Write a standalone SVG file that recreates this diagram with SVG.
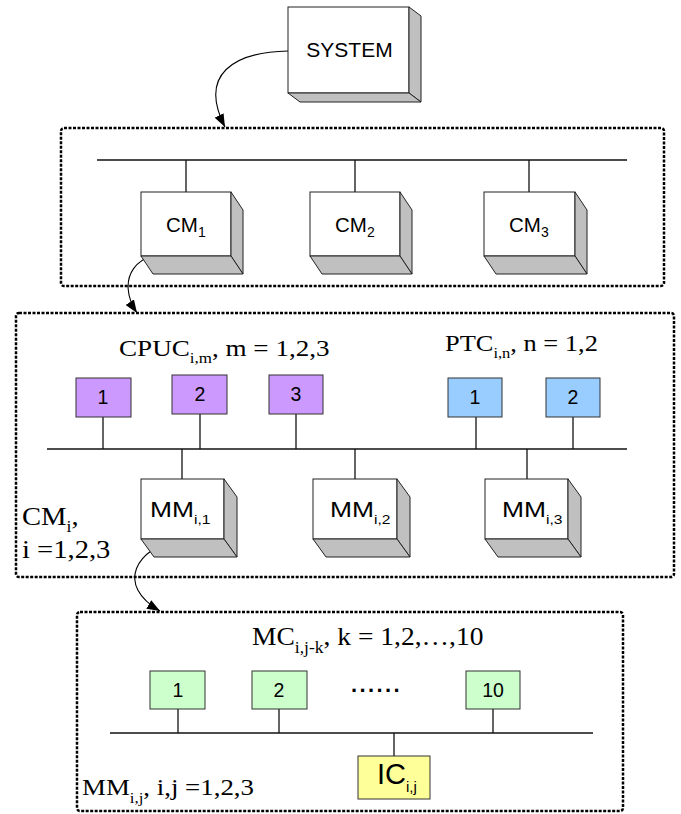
<svg xmlns="http://www.w3.org/2000/svg" width="681" height="814" viewBox="0 0 681 814">
<defs>
<style>
.frame{fill:none;stroke:#000;stroke-width:2.5;stroke-dasharray:3 1.5}
.front{fill:#fff;stroke:#222;stroke-width:1}
.face{fill:#c0c0c0;stroke:#222;stroke-width:1}
.bus{stroke:#111;stroke-width:1.3;fill:none}
.curve{stroke:#000;stroke-width:1.1;fill:none;marker-end:url(#arr)}
.cpu{fill:#cc99ff;stroke:#333;stroke-width:1}
.ptc{fill:#99ccff;stroke:#333;stroke-width:1}
.mc{fill:#ccffcc;stroke:#333;stroke-width:1}
.ic{fill:#ffff99;stroke:#333;stroke-width:1}
.hv{font-family:"Liberation Sans",Arial,sans-serif;fill:#000}
.tm{font-family:"Liberation Serif","Times New Roman",serif;fill:#000}
.num{font-family:"Liberation Sans",Arial,sans-serif;font-size:19.5px;text-anchor:middle;fill:#000}
</style>
<marker id="arr" viewBox="0 0 13 10" markerWidth="13" markerHeight="10" refX="13" refY="5" orient="auto" markerUnits="userSpaceOnUse">
<path d="M0,0 L13,5 L0,10 z" fill="#000"/>
</marker>
</defs>

<!-- frames -->
<rect id="frame-system" class="frame" x="61" y="128" width="603" height="158" rx="3"/>
<rect id="frame-cm" class="frame" x="16" y="313" width="658" height="264" rx="3"/>
<rect id="frame-mm" class="frame" x="77" y="612" width="546" height="199" rx="3"/>

<g id="connectors">
<line class="bus" x1="97" y1="160" x2="627" y2="160"/>
<line class="bus" x1="186" y1="160" x2="186" y2="192"/>
<line class="bus" x1="355" y1="160" x2="355" y2="192"/>
<line class="bus" x1="529" y1="160" x2="529" y2="192"/>

<line class="bus" x1="47" y1="449" x2="627" y2="449"/>
<line class="bus" x1="103" y1="417" x2="103" y2="449"/>
<line class="bus" x1="200" y1="414" x2="200" y2="449"/>
<line class="bus" x1="296" y1="414" x2="296" y2="449"/>
<line class="bus" x1="476" y1="417" x2="476" y2="449"/>
<line class="bus" x1="573" y1="417" x2="573" y2="449"/>
<line class="bus" x1="182" y1="449" x2="182" y2="479"/>
<line class="bus" x1="355" y1="449" x2="355" y2="479"/>
<line class="bus" x1="527" y1="449" x2="527" y2="479"/>

<line class="bus" x1="110" y1="733" x2="593" y2="733"/>
<line class="bus" x1="178" y1="709" x2="178" y2="733"/>
<line class="bus" x1="279" y1="709" x2="279" y2="733"/>
<line class="bus" x1="493" y1="709" x2="493" y2="733"/>
<line class="bus" x1="394" y1="733" x2="394" y2="756"/>

<path class="curve" d="M288,51 C234,52 198,74 225,127"/>
<path class="curve" d="M183,256 C135,246 115,280 137,313"/>
<path class="curve" d="M182,538 C135,548 115,585 160,611"/>
</g>

<g id="system">
<rect class="front" x="288" y="7" width="121" height="86"/>
<polygon class="face" points="409,7 421,16 421,102 409,93"/>
<polygon class="face" points="288,93 409,93 421,102 300,102"/>
<text class="hv" x="349.5" y="57" font-size="21" text-anchor="middle">SYSTEM</text>
</g>

<g id="cm1">
<rect class="front" x="141" y="192" width="90" height="64"/>
<polygon class="face" points="231,192 243,210 243,274 231,256"/>
<polygon class="face" points="141,256 231,256 243,274 153,274"/>
<text class="hv" x="166" y="232" font-size="20.5">CM<tspan font-size="14" dy="5">1</tspan></text>
</g>
<g id="cm2">
<rect class="front" x="310" y="192" width="90" height="64"/>
<polygon class="face" points="400,192 412,210 412,274 400,256"/>
<polygon class="face" points="310,256 400,256 412,274 322,274"/>
<text class="hv" x="335" y="232" font-size="20.5">CM<tspan font-size="14" dy="5">2</tspan></text>
</g>
<g id="cm3">
<rect class="front" x="484" y="192" width="91" height="64"/>
<polygon class="face" points="575,192 587,210 587,274 575,256"/>
<polygon class="face" points="484,256 575,256 587,274 496,274"/>
<text class="hv" x="509" y="232" font-size="20.5">CM<tspan font-size="14" dy="5">3</tspan></text>
</g>

<g id="label-cpuc">
<text class="tm" font-size="24" transform="translate(119,356) scale(1.13,1)">CPUC<tspan font-size="15" dy="7">i,m</tspan><tspan dy="-7">, m = 1,2,3</tspan></text>
</g>
<g id="label-ptc">
<text class="tm" font-size="24" transform="translate(445,351) scale(1.1,1)">PTC<tspan font-size="15" dy="7">i,n</tspan><tspan dy="-7">, n = 1,2</tspan></text>
</g>

<g id="cpuc1"><rect class="cpu" x="76" y="378" width="55" height="39"/><text class="num" x="103" y="404">1</text></g>
<g id="cpuc2"><rect class="cpu" x="172" y="375" width="55" height="39"/><text class="num" x="200" y="401">2</text></g>
<g id="cpuc3"><rect class="cpu" x="269" y="375" width="54" height="39"/><text class="num" x="296" y="401">3</text></g>
<g id="ptc1"><rect class="ptc" x="448" y="378" width="54" height="39"/><text class="num" x="475" y="404">1</text></g>
<g id="ptc2"><rect class="ptc" x="546" y="378" width="54" height="39"/><text class="num" x="573" y="404">2</text></g>

<g id="mm1">
<rect class="front" x="141" y="479" width="83" height="60"/>
<polygon class="face" points="224,479 237,497 237,557 224,539"/>
<polygon class="face" points="141,539 224,539 237,557 154,557"/>
<text class="hv" font-size="22" transform="translate(150,517) scale(1.2,1)">MM<tspan font-size="13" dy="7">i,1</tspan></text>
</g>
<g id="mm2">
<rect class="front" x="313" y="479" width="84" height="60"/>
<polygon class="face" points="397,479 410,497 410,557 397,539"/>
<polygon class="face" points="313,539 397,539 410,557 326,557"/>
<text class="hv" font-size="22" transform="translate(330,517) scale(1.2,1)">MM<tspan font-size="13" dy="7">i,2</tspan></text>
</g>
<g id="mm3">
<rect class="front" x="485" y="479" width="83" height="60"/>
<polygon class="face" points="568,479 581,497 581,557 568,539"/>
<polygon class="face" points="485,539 568,539 581,557 498,557"/>
<text class="hv" font-size="22" transform="translate(502,517) scale(1.2,1)">MM<tspan font-size="13" dy="7">i,3</tspan></text>
</g>

<g id="label-cmi">
<text class="tm" font-size="26" transform="translate(22,525) scale(1.1,1)">CM<tspan font-size="16" dy="7">i</tspan><tspan dy="-7">,</tspan></text>
<text class="tm" font-size="26" transform="translate(22,558) scale(1.1,1)">i =1,2,3</text>
</g>

<g id="label-mc">
<text class="tm" font-size="25" transform="translate(252,645) scale(1.1,1)">MC<tspan font-size="16" dy="8">i,j-k</tspan><tspan dy="-8">, k = 1,2,…,10</tspan></text>
</g>

<g id="mc1"><rect class="mc" x="150" y="671" width="55" height="38"/><text class="num" x="178" y="697">1</text></g>
<g id="mc2"><rect class="mc" x="252" y="671" width="55" height="38"/><text class="num" x="279" y="697">2</text></g>
<g id="mc10"><rect class="mc" x="466" y="671" width="54" height="38"/><text class="num" x="493" y="697">10</text></g>
<text class="hv" x="351" y="692" font-size="22" font-weight="bold" letter-spacing="2.4">......</text>

<g id="ic">
<rect class="ic" x="358" y="756" width="72" height="43"/>
<text class="hv" x="377" y="784" font-size="29">IC<tspan font-size="15" dy="8">i,j</tspan></text>
</g>

<g id="label-mmij">
<text class="tm" font-size="24" transform="translate(82,795) scale(1.12,1)">MM<tspan font-size="15" dy="8">i,j</tspan><tspan dy="-8">, i,j =1,2,3</tspan></text>
</g>
</svg>
